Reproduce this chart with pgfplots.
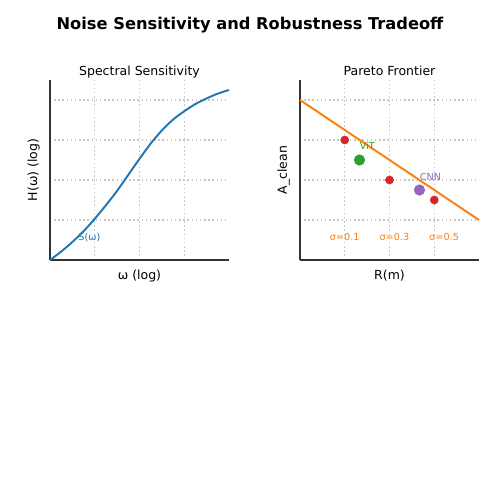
\documentclass[border=0pt]{standalone}
\usepackage{fontspec}
\setmainfont{DejaVu Sans}
\usepackage{pgfplots}
\pgfplotsset{compat=1.18}

\definecolor{mblue}{HTML}{1F77B4}
\definecolor{morange}{HTML}{FF7F0E}
\definecolor{mgreen}{HTML}{2CA02C}
\definecolor{mred}{HTML}{D62728}
\definecolor{mpurple}{HTML}{9467BD}
\definecolor{spine}{HTML}{333333}

\pgfplotsset{
  panel/.style={
    scale only axis,
    width=128.9pt, height=129.6pt,
    anchor=south west,
    xmin=0, xmax=4, ymin=0, ymax=4.5,
    xtick={1,2,3}, ytick={1,2,3,4},
    xticklabels={}, yticklabels={},
    major tick length=0pt,
    axis x line*=bottom, axis y line*=left,
    axis line style={spine, line width=1.1pt},
    grid=major,
    grid style={black!22, line width=1pt, dash pattern=on 1pt off 2pt},
    title style={font=\fontsize{9}{10}\selectfont, text depth=0.25em, yshift=-9pt},
    label style={font=\fontsize{9}{10}\selectfont},
    xlabel style={yshift=3pt},
    ylabel style={yshift=-3pt},
    clip=false,
  }
}

\begin{document}
\begin{tikzpicture}
\path[use as bounding box] (0,0) rectangle (360pt,360pt);
\node[font=\bfseries\fontsize{11.7}{13}\selectfont] at (180pt,342pt) {Noise Sensitivity and Robustness Tradeoff};

\begin{axis}[panel, at={(36pt,172.8pt)},
  title={Spectral Sensitivity},
  xlabel={ω (log)}, ylabel={H(ω) (log)}]
  \addplot[mblue, line width=1.4pt, smooth, tension=0.5] coordinates {
    (0,0) (0.25,0.21) (0.5,0.45) (0.75,0.72) (1,1.03) (1.25,1.37) (1.5,1.73)
    (1.75,2.13) (2,2.53) (2.25,2.91) (2.5,3.24) (2.75,3.51) (3,3.72)
    (3.25,3.9) (3.5,4.04) (3.75,4.16) (4,4.25)};
  \node[mblue, anchor=west, font=\fontsize{7}{8}\selectfont, inner sep=0pt] at (axis cs:0.63,0.57) {S(ω)};
\end{axis}

\begin{axis}[panel, at={(216pt,172.8pt)},
  title={Pareto Frontier},
  xlabel={R(m)}, ylabel={A\_clean}]
  \addplot[morange, line width=1.4pt] coordinates {(0,4) (4,1)};
  \addplot[only marks, mark=*, mred, mark size=2.9pt, mark options={draw=mred, fill=mred}]
    coordinates {(1,3) (2,2) (3,1.5)};
  \addplot[only marks, mark=*, mgreen, mark size=3.8pt, mark options={draw=mgreen, fill=mgreen}]
    coordinates {(1.33,2.5)};
  \addplot[only marks, mark=*, mpurple, mark size=3.8pt, mark options={draw=mpurple, fill=mpurple}]
    coordinates {(2.67,1.75)};
  \node[mgreen, anchor=west, font=\fontsize{7}{8}\selectfont, inner sep=0pt] at (axis cs:1.33,2.85) {ViT};
  \node[mpurple, anchor=west, font=\fontsize{7}{8}\selectfont, inner sep=0pt] at (axis cs:2.67,2.07) {CNN};
  \node[morange, font=\fontsize{7}{8}\selectfont, inner sep=0pt] at (axis cs:1,0.575) {σ=0.1};
  \node[morange, font=\fontsize{7}{8}\selectfont, inner sep=0pt] at (axis cs:2.11,0.575) {σ=0.3};
  \node[morange, font=\fontsize{7}{8}\selectfont, inner sep=0pt] at (axis cs:3.22,0.575) {σ=0.5};
\end{axis}
\end{tikzpicture}
\end{document}
